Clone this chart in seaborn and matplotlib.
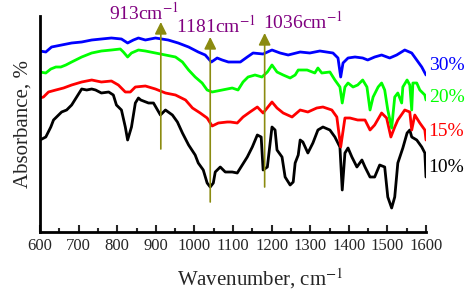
import matplotlib
matplotlib.use("Agg")
import matplotlib.pyplot as plt
import seaborn as sns
import pandas as pd

# ---- data (absorbance in arbitrary units) ----
wn_10 = [600,615,628,635,656,669,682,695,708,721,734,744,759,778,790,798,811,821,827,837,
         847,855,861,881,894,912,925,943,956,969,985,1002,1010,1023,1033,1041,1049,1054,1067,1080,
         1098,1111,1124,1137,1150,1163,1173,1178,1189,1201,1209,1214,1227,1235,1248,1256,1261,1269,1274,1281,
         1294,1307,1320,1333,1351,1364,1377,1383,1390,1398,1408,1421,1434,1442,1455,1467,1480,1493,1501,1511,
         1519,1527,1540,1551,1558,1563,1576,1589,1597,1600]
abs_10 = [92,95,105,112,120,122,127,135,143,142,143,142,139,140,137,127,122,105,92,105,
          129,134,132,129,129,117,122,117,110,99,87,77,69,62,49,45,49,60,65,60,
          60,59,67,75,85,97,95,62,65,105,102,82,75,55,47,50,69,77,92,90,
          79,89,102,105,102,95,85,42,79,84,75,65,72,65,55,55,67,65,35,24,
          35,69,84,99,102,95,92,85,79,55]

wn_15 = [600,609,622,641,661,682,708,734,759,785,803,821,834,847,873,899,925,951,977,995,
         1015,1033,1046,1062,1085,1093,1111,1126,1144,1163,1178,1201,1214,1230,1253,1274,1294,1317,1333,1356,
         1369,1379,1390,1403,1423,1442,1455,1467,1485,1498,1509,1519,1527,1545,1558,1563,1571,1584,1597,1600]
abs_15 = [134,135,140,142,144,147,150,152,150,151,147,140,140,145,146,143,139,137,132,124,
          119,114,106,109,110,110,109,115,120,125,119,130,124,119,115,122,120,124,125,122,
          115,85,114,114,112,112,102,107,119,114,95,105,112,122,120,102,117,109,102,92]

wn_20 = [600,615,628,641,654,667,682,708,734,759,785,808,816,827,837,855,873,899,925,951,
         969,985,1002,1020,1033,1046,1072,1098,1113,1126,1139,1157,1175,1189,1201,1214,1230,1248,1261,1269,
         1292,1312,1320,1330,1351,1364,1377,1383,1390,1398,1411,1423,1436,1447,1455,1463,1476,1485,1493,1501,
         1511,1519,1527,1537,1540,1551,1558,1563,1566,1576,1584,1597,1600]
abs_20 = [160,159,163,165,165,167,170,175,179,181,182,183,180,175,179,182,181,179,177,175,
          170,162,155,149,142,140,142,144,142,150,155,157,155,160,167,160,157,154,157,162,
          162,159,164,159,160,152,145,129,145,149,145,147,152,145,122,135,145,149,142,122,
          104,135,139,129,145,152,147,122,149,149,142,137,132]

wn_30 = [600,615,630,656,682,708,734,759,785,811,827,842,855,873,899,932,958,985,1010,1028,
         1044,1059,1072,1088,1119,1137,1152,1178,1201,1222,1243,1274,1299,1325,1359,1372,1379,1385,1398,1416,
         1436,1449,1467,1485,1506,1524,1545,1563,1576,1589,1600]
abs_30 = [181,180,185,187,189,190,192,193,194,193,189,192,194,192,194,192,189,185,180,177,
          170,174,172,170,170,175,179,178,182,179,177,180,179,181,179,174,155,169,174,175,
          174,172,175,177,174,177,182,179,172,165,157]

series_labels = ["10%", "15%", "20%", "30%"]
series_colors = ["#000000", "#FF0000", "#00FF00", "#0000FF"]
label_levels = [65, 100, 135, 167]      # y of the % labels (data units)

arrow_wn = [913, 1041, 1182]
arrow_bottom = [83, 30, 45]
arrow_top = [210, 195, 199]
arrow_texts = ["913cm$^{-1}$", "1181cm$^{-1}$", "1036cm$^{-1}$"]
text_wn = [778, 953, 1178]
text_y = [219, 206, 210]

xticks = list(range(600, 1601, 100))

# ---- plot ----
sns.set_style("ticks")
plt.rcParams["font.family"] = ["Liberation Serif", "DejaVu Serif"]
plt.rcParams["mathtext.fontset"] = "stix"

fig = plt.figure(figsize=(4.70, 2.91), dpi=100)
ax = fig.add_axes([40/470, 1-232/291, 386/470, 216/291])

data = [(wn_10, abs_10), (wn_15, abs_15), (wn_20, abs_20), (wn_30, abs_30)]
for (w, a), lab, col in zip(data, series_labels, series_colors):
    df = pd.DataFrame({"wn": w, "abs": a})
    sns.lineplot(data=df, x="wn", y="abs", color=col, lw=2.0, ax=ax,
                 estimator=None, sort=False, legend=False, zorder=2)

for lab, col, lev in zip(series_labels, series_colors, label_levels):
    ax.text(1607, lev, lab, color=col, fontsize=14, va="center", ha="left", clip_on=False)

for x, yb, yt in zip(arrow_wn, arrow_bottom, arrow_top):
    ax.annotate("", xy=(x, yt), xytext=(x, yb),
                arrowprops=dict(arrowstyle="-|>,head_length=0.6,head_width=0.3",
                                color="#8B8B10", lw=1.2, mutation_scale=12,
                                shrinkA=0, shrinkB=0),
                annotation_clip=False, zorder=4)

for t, x, y in zip(arrow_texts, text_wn, text_y):
    ax.text(x, y, t, color="#800080", fontsize=14, ha="left", va="center", clip_on=False)

ax.set_xlim(600, 1600)
ax.set_ylim(0, 216)
ax.set_xticks(xticks)
ax.set_xticks(range(650, 1600, 100), minor=True)
ax.set_xticklabels([str(v) for v in xticks], fontsize=12)
ax.set_yticks([])
ax.tick_params(axis="x", which="major", direction="in", length=5, width=1.5, pad=4)
ax.tick_params(axis="x", which="minor", direction="in", length=3, width=1.5)
for s in ["top", "right"]:
    ax.spines[s].set_visible(False)
for s in ["left", "bottom"]:
    ax.spines[s].set_linewidth(2)
    ax.spines[s].set_color("black")

ax.set_xlabel("Wavenumber, cm$^{-1}$", fontsize=15)
ax.set_ylabel("Absorbance, %", fontsize=15)
ax.xaxis.set_label_coords(0.57, -0.16)
ax.yaxis.set_label_coords(-0.02, 0.5)

fig.savefig("out.png", dpi=100)
